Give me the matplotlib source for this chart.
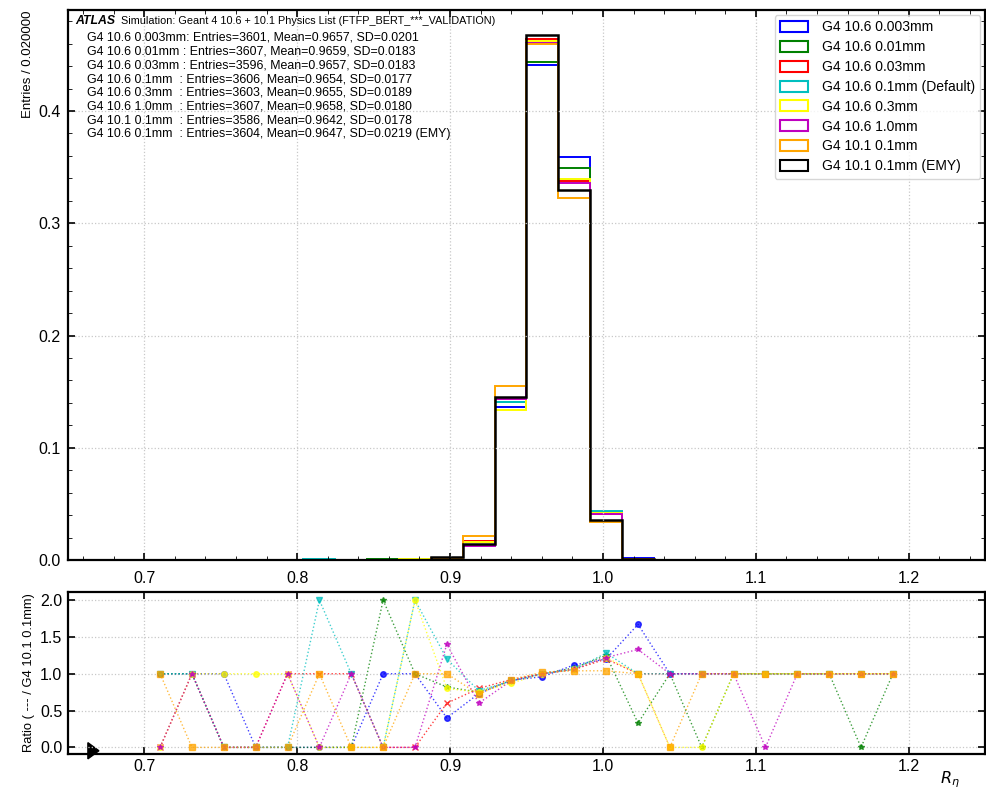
import numpy as np
import matplotlib.pyplot as plt
from matplotlib.patches import Patch, Polygon
from matplotlib.ticker import MultipleLocator

plt.rcParams['font.family'] = ['Liberation Sans', 'DejaVu Sans']

# --- Binning (24 bins over [0.7, 1.2]) ---
BIN_LO, BIN_HI, N_BINS = 0.7, 1.2, 24

# --- Series labels / colours ---
labels = ['G4 10.6 0.003mm', 'G4 10.6 0.01mm', 'G4 10.6 0.03mm', 'G4 10.6 0.1mm (Default)',
          'G4 10.6 0.3mm', 'G4 10.6 1.0mm', 'G4 10.1 0.1mm', 'G4 10.1 0.1mm (EMY)']
colors = ['blue', 'green', 'red', 'c', 'yellow', 'm', 'orange', 'black']

# normalised bin contents, bins 0..23
h_0003 = [0, 0, 0, 0.0003, 0.0003, 0, 0, 0.0003, 0.0003, 0.00056, 0.0158, 0.1366, 0.4414, 0.3589, 0.0410, 0.0014, 0, 0, 0, 0, 0, 0, 0, 0]
h_001 = [0, 0, 0, 0, 0, 0, 0, 0.0006, 0.0003, 0.0011, 0.0158, 0.1408, 0.4437, 0.3490, 0.0425, 0.00028, 0, 0, 0, 0, 0, 0, 0, 0]
h_003 = [0, 0, 0, 0, 0.0003, 0.0003, 0.0003, 0, 0, 0.0017, 0.0168, 0.1430, 0.4645, 0.3380, 0.0410, 0.00083, 0, 0, 0, 0, 0, 0, 0, 0]
h_01 = [0, 0, 0, 0, 0, 0.0006, 0.0003, 0, 0.0006, 0.0017, 0.0160, 0.1408, 0.4610, 0.3390, 0.0438, 0.00083, 0, 0, 0, 0, 0, 0, 0, 0]
h_03 = [0, 0, 0.0003, 0.0003, 0.0003, 0, 0, 0, 0.0006, 0.0011, 0.0158, 0.1334, 0.4620, 0.3397, 0.0415, 0.00083, 0, 0, 0, 0, 0, 0, 0, 0]
h_10 = [0, 0, 0, 0, 0.0003, 0, 0.0003, 0, 0, 0.0019, 0.0126, 0.1430, 0.4610, 0.3359, 0.0406, 0.0011, 0, 0, 0, 0, 0, 0, 0, 0]
h_101 = [0.0003, 0, 0, 0, 0, 0.0003, 0, 0, 0.0003, 0.0014, 0.0210, 0.1550, 0.4594, 0.3224, 0.0340, 0.00084, 0, 0, 0, 0, 0, 0, 0, 0]
h_emy = [0, 0, 0, 0, 0, 0, 0, 0, 0, 0.0030, 0.0145, 0.1449, 0.4680, 0.3295, 0.0354, 0.00083, 0, 0, 0, 0, 0, 0, 0, 0]
hists = [h_0003, h_001, h_003, h_01, h_03, h_10, h_101, h_emy]

stats = [('G4 10.6 0.003mm', 3601, 0.9657, 0.0201, ''),
         ('G4 10.6 0.01mm', 3607, 0.9659, 0.0183, ''),
         ('G4 10.6 0.03mm', 3596, 0.9657, 0.0183, ''),
         ('G4 10.6 0.1mm', 3606, 0.9654, 0.0177, ''),
         ('G4 10.6 0.3mm', 3603, 0.9655, 0.0189, ''),
         ('G4 10.6 1.0mm', 3607, 0.9658, 0.0180, ''),
         ('G4 10.1 0.1mm', 3586, 0.9642, 0.0178, ''),
         ('G4 10.6 0.1mm', 3604, 0.9647, 0.0219, ' (EMY)')]

# ratio values as drawn (bins 0..23)
r_blue = [1, 1, 1, 0, 0, 0, 0, 1, 1, 0.4, 0.73, 0.91, 0.96, 1.12, 1.2, 1.67, 1, 1, 1, 1, 1, 1, 1, 1]
r_green = [1, 1, 0, 0, 0, 0, 0, 2, 1, 0.82, 0.75, 0.9, 1.0, 1.08, 1.25, 0.33, 1, 0, 1, 1, 1, 1, 0, 1]
r_red = [0, 1, 0, 0, 1, 1, 1, 0, 0, 0.6, 0.8, 0.92, 1.0, 1.06, 1.2, 1, 1, 1, 1, 1, 1, 1, 1, 1]
r_cyan = [1, 1, 0, 0, 0, 2, 1, 0, 2, 1.2, 0.77, 0.9, 1.0, 1.06, 1.28, 1, 1, 1, 1, 1, 1, 1, 1, 1]
r_yellow = [0, 1, 1, 1, 1, 0, 0, 0, 2, 0.8, 0.75, 0.87, 1.0, 1.06, 1.22, 1, 0, 0, 1, 1, 1, 1, 1, 1]
r_magenta = [0, 1, 0, 0, 1, 0, 1, 0, 0, 1.4, 0.6, 0.9, 1.0, 1.06, 1.22, 1.33, 1, 1, 1, 0, 1, 1, 1, 1]
r_orange = [1, 0, 0, 0, 0, 1, 0, 0, 1, 1.0, 0.72, 0.92, 1.02, 1.04, 1.04, 1.0, 0, 1, 1, 1, 1, 1, 1, 1]
ratios = [r_blue, r_green, r_red, r_cyan, r_yellow, r_magenta, r_orange]
ratio_colors = ['blue', 'green', 'red', 'c', 'yellow', 'm', 'orange']
ratio_markers = ['o', '*', 'x', 'v', 'o', '*', 's']

edges = np.linspace(BIN_LO, BIN_HI, N_BINS + 1)
centers = 0.5 * (edges[:-1] + edges[1:])

W, H = 986, 789
fig = plt.figure(figsize=(W / 100, H / 100), dpi=100)
ax = fig.add_axes([67.7 / W, 1 - 560 / H, (985.3 - 67.7) / W, 550 / H])
rax = fig.add_axes([67.7 / W, 1 - 754 / H, (985.3 - 67.7) / W, 162 / H])

grid_kw = dict(color='#c8c8c8', ls=':', lw=0.9)

# --- main panel ---
for h, c in zip(hists, colors):
    lw = 1.8 if c == 'black' else 1.4
    ax.stairs(h, edges, color=c, lw=lw)

ax.set_xlim(0.65, 1.25)
ax.set_ylim(0, 0.49)
ax.xaxis.set_major_locator(MultipleLocator(0.1))
ax.xaxis.set_minor_locator(MultipleLocator(0.02))
ax.yaxis.set_major_locator(MultipleLocator(0.1))
ax.yaxis.set_minor_locator(MultipleLocator(0.02))
ax.grid(True, **grid_kw)
ax.tick_params(which='both', direction='in', top=True, right=True, labelsize=11.5)
ax.tick_params(which='major', length=5, width=1.2)
ax.tick_params(axis='x', which='major', pad=8)
ax.tick_params(axis='y', which='major', pad=5)
ax.tick_params(which='minor', length=3)
ax.set_ylabel('Entries / 0.020000', fontsize=9.5, loc='top')
ax.yaxis.set_label_coords(-0.037, 1.0)
for s in ax.spines.values():
    s.set_linewidth(1.6)

ax.text(0.008, 0.99, 'ATLAS', transform=ax.transAxes, fontsize=8.8,
        fontweight='bold', style='italic', va='top', ha='left')
ax.text(0.058, 0.99, 'Simulation: Geant 4 10.6 + 10.1 Physics List (FTFP_BERT_***_VALIDATION)',
        transform=ax.transAxes, fontsize=7.8, va='top', ha='left')
lines = []
for name, n, mean, sd, tag in stats:
    lines.append(f'{name:<15}: Entries={n}, Mean={mean:.4f}, SD={sd:.4f}{tag}')
ax.text(0.021, 0.96, '\n'.join(lines), transform=ax.transAxes, fontsize=8.9,
        va='top', ha='left', linespacing=1.19)

handles = [Patch(facecolor='none', edgecolor=c, lw=1.5, label=l) for c, l in zip(colors, labels)]
leg = ax.legend(handles=handles, loc='upper right', fontsize=10, frameon=True,
                borderaxespad=0.35, handlelength=2.0, handleheight=0.85, labelspacing=0.42,
                handletextpad=1.0)
leg.get_frame().set_edgecolor('#cccccc')

# --- ratio panel ---
for r, c, m in zip(ratios, ratio_colors, ratio_markers):
    rax.plot(centers, r, ls=':', color=c, marker=m, ms=4, lw=1.0, alpha=0.75)

rax.set_xlim(0.65, 1.25)
rax.set_ylim(-0.09, 2.11)
rax.xaxis.set_major_locator(MultipleLocator(0.1))
rax.yaxis.set_major_locator(MultipleLocator(0.5))
rax.grid(True, **grid_kw)
rax.tick_params(which='both', direction='in', top=True, right=True, labelsize=11.5)
rax.tick_params(which='major', length=5, width=1.2)
rax.tick_params(axis='y', which='major', pad=4)
rax.set_ylabel('Ratio ( --- / G4 10.1 0.1mm)', fontsize=9.3)
rax.yaxis.set_label_coords(-0.036, 0.5)
rax.set_xlabel(r'$R_{\eta}$', fontsize=11.5, loc='right')
rax.xaxis.set_label_coords(0.972, -0.095)
for s in rax.spines.values():
    s.set_linewidth(1.6)

# screenshot pointer in the corner
rax.add_patch(Polygon([[0.022, 0.07], [0.022, -0.03], [0.034, 0.02]], closed=True,
                      transform=rax.transAxes, color='black', clip_on=False))

fig.savefig('out.png', dpi=100)
